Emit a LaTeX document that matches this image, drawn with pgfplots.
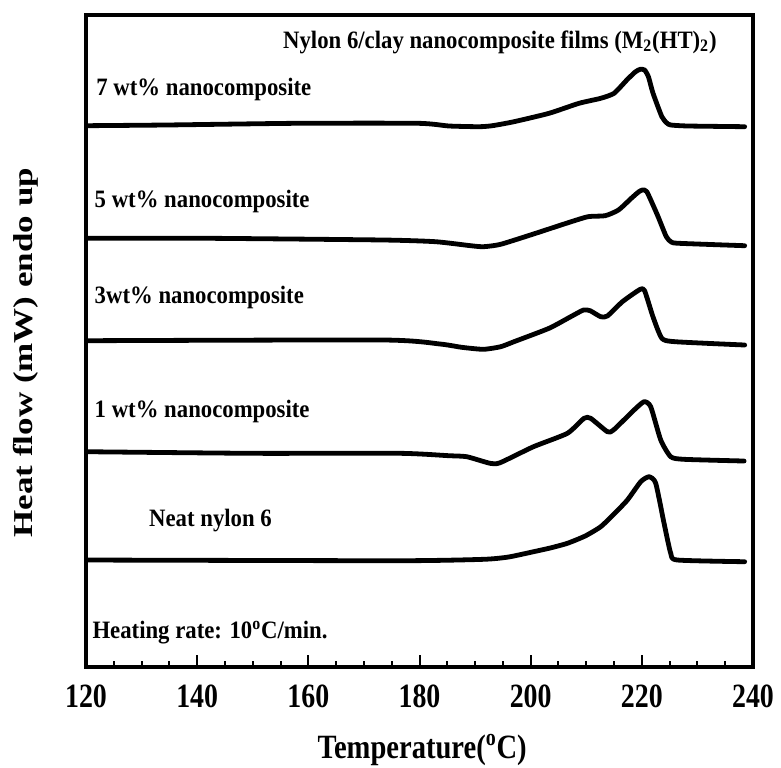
\documentclass[border=0pt]{standalone}
\usepackage{pgfplots}
\pgfplotsset{compat=1.18}
\usepackage{graphicx}
\usepackage{fontspec}
\setmainfont{Liberation Serif}
\newcommand{\lab}[1]{\scalebox{0.91}[1]{\fontsize{12.5}{14}\selectfont\bfseries #1}}
\newcommand{\tk}[1]{\scalebox{0.82}[1]{\fontsize{17}{19}\selectfont\bfseries #1}}
\begin{document}
\begin{tikzpicture}
\begin{axis}[
  scale only axis,
  width=333.5pt, height=326pt,
  xmin=120, xmax=240, ymin=0, ymax=652,
  axis line style={line width=1.6pt},
  xtick={120,140,160,180,200,220,240},
  xticklabels={\tk{120},\tk{140},\tk{160},\tk{180},\tk{200},\tk{220},\tk{240}},
  minor x tick num=3,
  xtick pos=bottom,
  tick align=inside,
  major tick length=6pt, minor tick length=3pt,
  tick style={line width=1pt, black},
  ytick=\empty,
  xticklabel style={yshift=-5.5pt},
  xlabel={\scalebox{0.84}[1]{\fontsize{17}{19}\selectfont\bfseries Temperature(\textsuperscript{o}C)}},
  ylabel={\scalebox{1}[0.78]{\fontsize{17.5}{20}\selectfont\bfseries Heat flow (mW) endo up}},
  xlabel style={at={(axis description cs:0.504,-0.1396)}, anchor=base},
  ylabel style={at={(axis description cs:-0.0795,0.482)}, rotate=0, anchor=base},
  cycle list={{black}},
  every axis plot/.append style={black, no markers, line width=2.4pt, line join=round, line cap=round, smooth, tension=0.35},
]
% 7 wt%
\addplot coordinates {(120,541.3) (134.4,542) (157.9,543.7) (179.8,543.7) (185.3,541) (190.7,540.3) (193.1,541.3) (197,545.3) (203.3,553.7) (208.7,563.7) (212.6,568.7) (215,573.7) (217.3,587) (218.8,595) (219.7,597.7) (220.5,597) (221.2,590) (222,574) (223.6,550.3) (224.5,544) (225.2,542) (228.3,541) (238.5,540.3)};
% 5 wt%
\addplot coordinates {(120,428.7) (142.2,428.7) (173.5,427) (182.9,425.3) (189.2,421.3) (191.5,420.3) (194.6,422.7) (200.9,433.7) (206.4,443.7) (210.3,450.3) (213.4,451.3) (215.8,457) (218.1,468.7) (219.4,475) (220.1,477) (220.9,475.3) (222.8,452) (224.4,430.3) (225.3,425) (226.7,423.7) (238.5,421.3)};
% 3 wt%
\addplot coordinates {(120,326.3) (173.5,327) (183.7,323) (187.6,319.7) (191.5,317.7) (194.6,320.3) (197,325.3) (203.3,338.7) (207.2,350.3) (209.5,357) (210.7,356.3) (212.6,350.3) (213.8,351) (216.5,365.3) (219.7,377.7) (220.5,376.3) (222,350.3) (223.6,328.7) (226,325.3) (238.5,322)};
% 1 wt%
\addplot coordinates {(120,215.3) (150,213.7) (176.5,213.7) (185.3,211.3) (188.5,210.3) (192.7,203.7) (194.5,204.3) (200.5,220.3) (206.6,233.7) (209.6,248.7) (210.8,248.7) (213.8,235.3) (214.9,237) (218.6,257) (220.4,265.3) (221.6,260.3) (223.4,227) (225.2,210.3) (227.6,207.7) (238.4,206)};
% Neat nylon 6
\addplot coordinates {(120,107) (176.5,106.3) (191.5,107.7) (196,110) (200.5,115.3) (203.5,119) (206.6,123.7) (209.8,131) (212.6,140.3) (215,153) (217.4,167) (219.8,185.3) (221.3,190.3) (222.5,183.7) (224,143.7) (225.2,113.7) (226.4,107) (238.5,105.3)};
\node[anchor=base west, inner sep=0pt] at (axis cs:155.4,619) {\lab{Nylon 6/clay nanocomposite films (M\textsubscript{2}(HT)\textsubscript{2})}};
\node[anchor=base west, inner sep=0pt] at (axis cs:121.8,572) {\lab{7 wt\% nanocomposite}};
\node[anchor=base west, inner sep=0pt] at (axis cs:121.5,460) {\lab{5 wt\% nanocomposite}};
\node[anchor=base west, inner sep=0pt] at (axis cs:121.5,364) {\lab{3wt\% nanocomposite}};
\node[anchor=base west, inner sep=0pt] at (axis cs:121.5,250) {\lab{1 wt\% nanocomposite}};
\node[anchor=base west, inner sep=0pt] at (axis cs:131.3,141) {\lab{Neat nylon 6}};
\node[anchor=base west, inner sep=0pt] at (axis cs:121.1,29) {\lab{Heating rate: 10\textsuperscript{o}C/min.}};
\end{axis}
\pgfresetboundingbox
\path[use as bounding box] ([shift={(-43pt,-50pt)}]current axis.south west) rectangle ([shift={(14pt,7.5pt)}]current axis.north east);
\end{tikzpicture}
\end{document}
